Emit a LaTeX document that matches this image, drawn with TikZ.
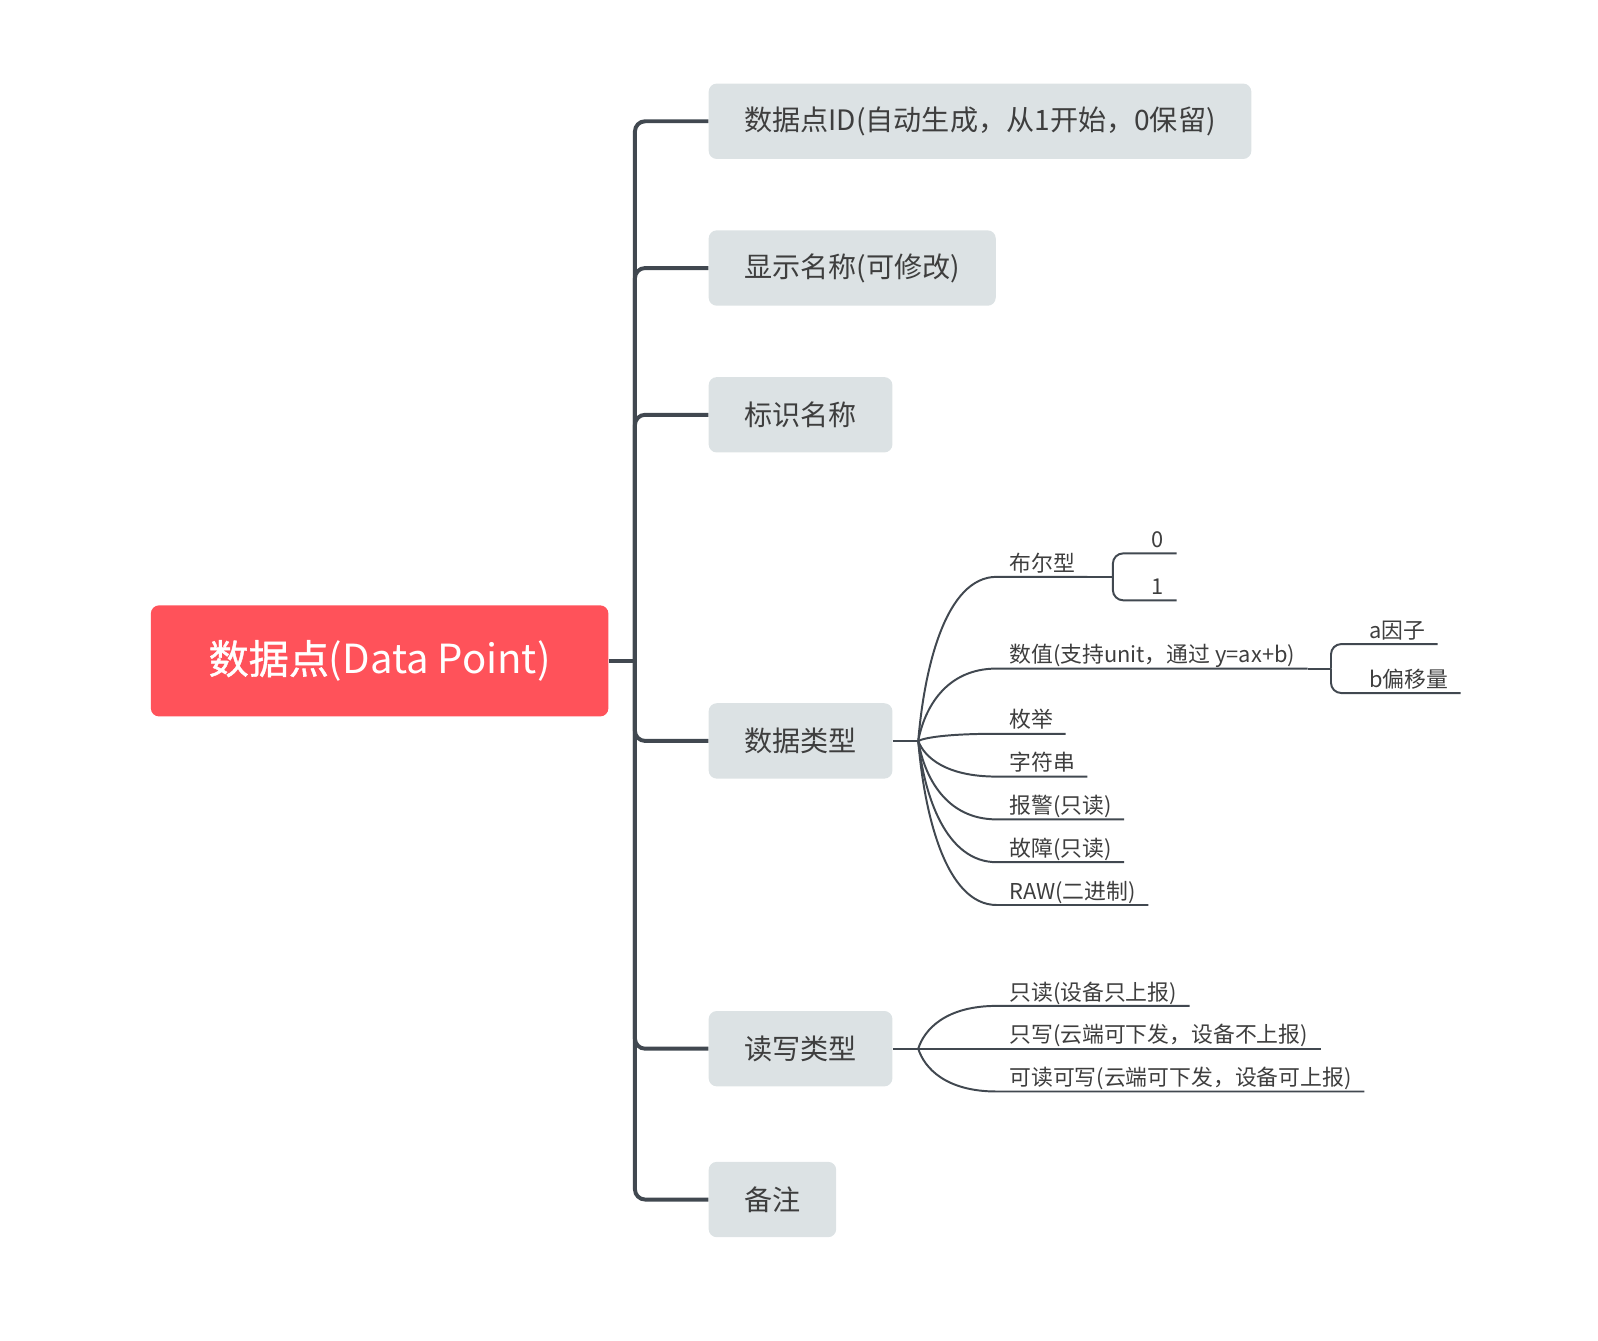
\documentclass[tikz,border=0pt]{standalone}
\usepackage{fontspec}
\setmainfont{Noto Sans CJK SC}
\newfontfamily\rootcjk[FakeBold=1]{Noto Sans CJK SC}
\usepackage{tikz}

\definecolor{rootred}{HTML}{FF525A}
\definecolor{boxgray}{HTML}{DCE2E4}
\definecolor{linegray}{HTML}{414850}
\definecolor{textgray}{HTML}{3E3E3E}

\tikzset{
  rootbox/.style={fill=rootred, rounded corners=0.16cm, text=white, minimum width=8.98cm, minimum height=2.18cm, font=\fontsize{22.4}{26}\selectfont},
  topic/.style={fill=boxgray, rounded corners=0.16cm, text=textgray, anchor=west, minimum height=1.48cm, inner xsep=0.7cm, font=\fontsize{15.7}{19}\selectfont},
  leaf/.style={text=textgray, anchor=south west, inner xsep=0.24cm, inner ysep=0.03cm, text height=0.85em, text depth=0.22em, font=\fontsize{12.2}{14}\selectfont},
  trunk/.style={draw=linegray, line width=2.2pt, rounded corners=0.2cm},
  twig/.style={draw=linegray, line width=1.1pt}
}

\begin{document}
\begin{tikzpicture}[x=0.02cm, y=-0.02cm]

\useasboundingbox (0,0) rectangle (1568,1315);

\node[rootbox] (root) at (372.5,648.5) {{\rootcjk 数据点}(Data Point)};

\node[topic] (pid) at (695,119) {数据点ID(自动生成，从1开始，0保留)};
\node[topic] (pshow) at (695,263) {显示名称(可修改)};
\node[topic] (pkey) at (695,407) {标识名称};
\node[topic] (ptype) at (695,727) {数据类型};
\node[topic] (prw) at (695,1029) {读写类型};
\node[topic] (pnote) at (695,1177) {备注};

% main branches
\coordinate (hub) at (623,648.5);
\draw[trunk] (root.east) -- (hub);
\draw[trunk] (hub) |- (pid.west);
\draw[trunk] (hub) |- (pshow.west);
\draw[trunk] (hub) |- (pkey.west);
\draw[trunk] (hub) |- (ptype.west);
\draw[trunk] (hub) |- (prw.west);
\draw[trunk] (hub) |- (pnote.west);

% data types
\coordinate (thub) at (901,727);
\draw[twig] (ptype.east) -- (thub);
\node[leaf] (tbool) at (978,566) {布尔型};
\node[leaf] (tnum) at (978,656) {数值(支持unit，通过 y=ax+b)};
\node[leaf] (tenum) at (978,720) {枚举};
\node[leaf] (tstr) at (978,762) {字符串};
\node[leaf] (talarm) at (978,804) {报警(只读)};
\node[leaf] (tfault) at (978,846) {故障(只读)};
\node[leaf] (traw) at (978,888) {RAW(二进制)};
\draw[twig] (thub) .. controls +(6,-72) and +(-50,0) .. (tbool.south west) -- (tbool.south east);
\draw[twig] (thub) .. controls +(6,-32) and +(-50,0) .. (tnum.south west) -- (tnum.south east);
\draw[twig] (thub) .. controls +(6,-3) and +(-50,0) .. (tenum.south west) -- (tenum.south east);
\draw[twig] (thub) .. controls +(6,16) and +(-50,0) .. (tstr.south west) -- (tstr.south east);
\draw[twig] (thub) .. controls +(6,35) and +(-50,0) .. (talarm.south west) -- (talarm.south east);
\draw[twig] (thub) .. controls +(6,54) and +(-50,0) .. (tfault.south west) -- (tfault.south east);
\draw[twig] (thub) .. controls +(6,72) and +(-50,0) .. (traw.south west) -- (traw.south east);

% boolean values
\coordinate (bfork) at (1092,566);
\node[leaf] (bzero) at (1118,543) {0};
\node[leaf] (bone) at (1118,589) {1};
\draw[twig] (tbool.south east) -- (bfork);
\draw[twig, rounded corners=0.2cm] (bfork) |- (bzero.south west) -- (bzero.south east);
\draw[twig, rounded corners=0.2cm] (bfork) |- (bone.south west) -- (bone.south east);

% numeric factors
\coordinate (nfork) at (1306,656);
\node[leaf] (nfac) at (1331,632) {a因子};
\node[leaf] (noff) at (1331,680) {b偏移量};
\draw[twig] (tnum.south east) -- (nfork);
\draw[twig, rounded corners=0.2cm] (nfork) |- (nfac.south west) -- (nfac.south east);
\draw[twig, rounded corners=0.2cm] (nfork) |- (noff.south west) -- (noff.south east);

% read / write
\coordinate (rhub) at (901,1029);
\draw[twig] (prw.east) -- (rhub);
\node[leaf] (rro) at (978,987) {只读(设备只上报)};
\node[leaf] (rwo) at (978,1029) {只写(云端可下发，设备不上报)};
\node[leaf] (rrw) at (978,1071) {可读可写(云端可下发，设备可上报)};
\draw[twig] (rhub) .. controls +(6,-19) and +(-50,0) .. (rro.south west) -- (rro.south east);
\draw[twig] (rhub) -- (rwo.south west) -- (rwo.south east);
\draw[twig] (rhub) .. controls +(6,19) and +(-50,0) .. (rrw.south west) -- (rrw.south east);

\end{tikzpicture}
\end{document}
